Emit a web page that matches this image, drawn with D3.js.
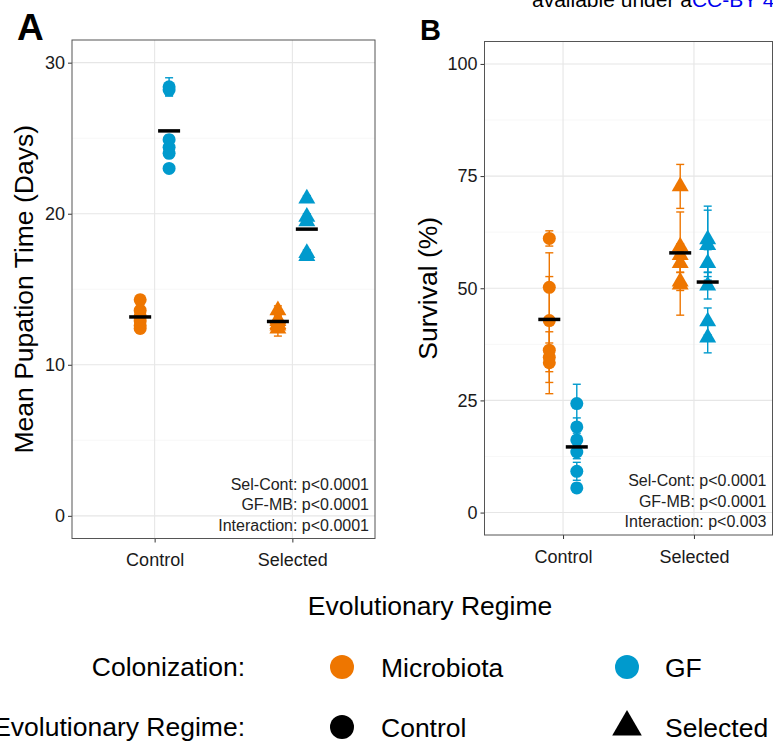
<!DOCTYPE html>
<html>
<head>
<meta charset="utf-8">
<script src="https://cdn.jsdelivr.net/npm/d3@7"></script>
<style>
  body { margin: 0; background: #fff; overflow: hidden; }
  text { font-family: "Liberation Sans", Arial, sans-serif; }
</style>
</head>
<body>
<script>
const width = 773;
const height = 744;

const regimes = ["Control", "Selected"];
const colonization = ["Microbiota", "GF"];
const colors = ["#EE7600", "#009ACD"];

// panel A: mean pupation time (days), one value per replicate, with SE
const pupControlMB = [14.3, 13.6, 13.2, 12.9, 12.6, 12.4];
const pupControlMBse = [0.3, 0.3, 0.3, 0.3, 0.3, 0.3];
const pupControlGF = [28.4, 28.2, 24.9, 24.4, 24.0, 23.0];
const pupControlGFse = [0.6, 0.4, 0.3, 0.3, 0.3, 0.2];
const pupSelectedMB = [13.6, 13.0, 12.9, 12.7, 12.6, 12.4];
const pupSelectedMBse = [0.3, 0.3, 0.3, 0.3, 0.3, 0.5];
const pupSelectedGF = [21.0, 19.8, 19.5, 17.4, 17.2];
const pupSelectedGFse = [0.2, 0.2, 0.2, 0.2, 0.2];

// panel B: survival (%)
const survControlMB = [61.1, 50.2, 42.8, 36.2, 34.6, 33.4];
const survControlMBse = [1.7, 7.7, 9.8, 7.2, 3.2, 6.9];
const survControlGF = [24.3, 19.1, 16.2, 13.5, 9.2, 5.5];
const survControlGFse = [4.3, 2.0, 1.5, 1.5, 2.0, 1.0];
const survSelectedMB = [72.7, 59.3, 57.4, 55.6, 51.5, 50.8];
const survSelectedMBse = [4.9, 7.7, 2.5, 2.0, 2.0, 6.8];
const survSelectedGF = [60.9, 59.6, 55.6, 50.6, 42.6, 39.0];
const survSelectedGFse = [7.4, 7.8, 3.0, 3.0, 3.0, 3.4];

const pupTicks = [0, 10, 20, 30];
const pupMinor = [5, 15, 25];
const survTicks = [0, 25, 50, 75, 100];
const survMinor = [12.5, 37.5, 62.5, 87.5];

const statsA = ["Sel-Cont: p<0.0001", "GF-MB: p<0.0001", "Interaction: p<0.0001"];
const statsB = ["Sel-Cont: p<0.0001", "GF-MB: p<0.0001", "Interaction: p<0.003"];

const svg = d3.select('body')
  .append('svg')
  .attr('width', width)
  .attr('height', height);

const groupsOf = (cm, cmse, cg, cgse, sm, smse, sg, sgse) => [
  { regime: "Control", col: 0, vals: cm, se: cmse },
  { regime: "Control", col: 1, vals: cg, se: cgse },
  { regime: "Selected", col: 0, vals: sm, se: smse },
  { regime: "Selected", col: 1, vals: sg, se: sgse }
];

const drawPanel = (opt) => {
  const { left, right, top, bottom } = opt;
  const g = svg.append('g');

  const x = d3.scalePoint().domain(regimes).range([left, right]).padding(0.6);
  const y = d3.scaleLinear().domain(opt.domain).range([bottom, top]);
  const dodge = x.step() * 0.105;
  const cx = (d) => x(d.regime) + (d.col === 0 ? -dodge : dodge);

  // grid
  g.selectAll('.minor').data(opt.minor).join('line')
    .attr('x1', left).attr('x2', right)
    .attr('y1', d => y(d)).attr('y2', d => y(d))
    .attr('stroke', '#F3F3F3').attr('stroke-width', 0.7);
  g.selectAll('.major').data(opt.ticks).join('line')
    .attr('x1', left).attr('x2', right)
    .attr('y1', d => y(d)).attr('y2', d => y(d))
    .attr('stroke', '#E6E6E6').attr('stroke-width', 1.1);
  g.selectAll('.vgrid').data(regimes).join('line')
    .attr('x1', d => x(d)).attr('x2', d => x(d))
    .attr('y1', top).attr('y2', bottom)
    .attr('stroke', '#E6E6E6').attr('stroke-width', 1.1);

  // axes
  const yAxis = g.append('g')
    .attr('transform', `translate(${left},0)`)
    .call(d3.axisLeft(y).tickValues(opt.ticks).tickSize(4).tickPadding(3));
  const xAxis = g.append('g')
    .attr('transform', `translate(0,${bottom})`)
    .call(d3.axisBottom(x).tickSize(4).tickPadding(11));
  [yAxis, xAxis].forEach(a => {
    a.select('.domain').remove();
    a.selectAll('line').attr('stroke', '#333').attr('stroke-width', 1);
    a.selectAll('text').attr('fill', '#1a1a1a').style('font-size', '18px')
      .style('font-family', '"Liberation Sans", Arial, sans-serif');
  });

  const points = [];
  opt.groups.forEach(gr => gr.vals.forEach((v, i) => points.push({ ...gr, v, s: gr.se[i] })));

  // error bars
  const eb = g.append('g').selectAll('g').data(points).join('g')
    .attr('stroke', d => colors[d.col]).attr('stroke-width', 1.4);
  eb.append('line')
    .attr('x1', cx).attr('x2', cx)
    .attr('y1', d => y(d.v - d.s)).attr('y2', d => y(d.v + d.s));
  [-1, 1].forEach(sgn => {
    eb.append('line')
      .attr('x1', d => cx(d) - 4).attr('x2', d => cx(d) + 4)
      .attr('y1', d => y(d.v + sgn * d.s)).attr('y2', d => y(d.v + sgn * d.s));
  });

  // points
  g.append('g').selectAll('path').data(points).join('path')
    .attr('transform', d => `translate(${cx(d)},${y(d.v)})`)
    .attr('d', d => d.regime === "Control"
      ? d3.symbol(d3.symbolCircle, Math.PI * 6.5 * 6.5)()
      : d3.symbol(d3.symbolTriangle, 125)())
    .attr('fill', d => colors[d.col]);

  // group means
  g.append('g').selectAll('line').data(opt.groups).join('line')
    .attr('x1', d => cx(d) - 11).attr('x2', d => cx(d) + 11)
    .attr('y1', d => y(d3.mean(d.vals))).attr('y2', d => y(d3.mean(d.vals)))
    .attr('stroke', 'black').attr('stroke-width', 3.5);

  // border
  g.append('rect')
    .attr('x', left).attr('y', top)
    .attr('width', right - left).attr('height', bottom - top)
    .attr('fill', 'none').attr('stroke', '#555').attr('stroke-width', 1);

  // stats
  g.append('g').selectAll('text').data(opt.stats).join('text')
    .attr('x', right - 6)
    .attr('y', (d, i) => bottom - 49 + i * 20.5)
    .attr('text-anchor', 'end')
    .attr('fill', '#222')
    .style('font-size', '16px')
    .text(d => d);

  // y title
  g.append('text')
    .attr('transform', `translate(${opt.titleX},${(top + bottom) / 2}) rotate(-90)`)
    .attr('text-anchor', 'middle')
    .style('font-size', '26.5px')
    .text(opt.title);

  // panel letter
  g.append('text')
    .attr('x', opt.letterX).attr('y', opt.letterY)
    .style('font-size', opt.letterSize)
    .style('font-weight', 'bold')
    .text(opt.letter);
};

drawPanel({
  left: 72, right: 375, top: 40, bottom: 538.5,
  domain: [-1.5, 31.5], ticks: pupTicks, minor: pupMinor,
  groups: groupsOf(pupControlMB, pupControlMBse, pupControlGF, pupControlGFse,
                   pupSelectedMB, pupSelectedMBse, pupSelectedGF, pupSelectedGFse),
  stats: statsA, title: "Mean Pupation Time (Days)", titleX: 33,
  letter: "A", letterX: 17, letterY: 40, letterSize: '37px'
});

drawPanel({
  left: 484.5, right: 772.5, top: 41.5, bottom: 535,
  domain: [-5, 105], ticks: survTicks, minor: survMinor,
  groups: groupsOf(survControlMB, survControlMBse, survControlGF, survControlGFse,
                   survSelectedMB, survSelectedMBse, survSelectedGF, survSelectedGFse),
  stats: statsB, title: "Survival (%)", titleX: 437,
  letter: "B", letterX: 420, letterY: 40, letterSize: '29px'
});

// shared x title
svg.append('text')
  .attr('x', 430).attr('y', 615)
  .attr('text-anchor', 'middle')
  .style('font-size', '26.5px')
  .text("Evolutionary Regime");

// header fragment from the source page
const header = svg.append('text').attr('x', 532).attr('y', 7).style('font-size', '21px');
header.append('tspan').attr('fill', 'black').text("available under a");
header.append('tspan').attr('fill', '#0000EE').text("CC-BY 4.0 International license");

// legend
const legend = svg.append('g');
const legendRows = [
  { title: "Colonization:", y: 667, items: colonization.map((c, i) => ({ label: c, fill: colors[i], shape: d3.symbolCircle })) },
  { title: "Evolutionary Regime:", y: 727, items: regimes.map((r, i) => ({ label: r, fill: 'black', shape: i === 0 ? d3.symbolCircle : d3.symbolTriangle })) }
];
const keyX = [342, 627];
legendRows.forEach(row => {
  legend.append('text')
    .attr('x', 245).attr('y', row.y + 9)
    .attr('text-anchor', 'end')
    .style('font-size', '26.5px')
    .text(row.title);
  row.items.forEach((it, i) => {
    legend.append('path')
      .attr('transform', `translate(${keyX[i]},${row.y})`)
      .attr('d', d3.symbol(it.shape, it.shape === d3.symbolCircle ? Math.PI * 12 * 12 : 380)())
      .attr('fill', it.fill);
    legend.append('text')
      .attr('x', keyX[i] + (i === 0 ? 39 : 38)).attr('y', row.y + 10)
      .style('font-size', '26.5px')
      .text(it.label);
  });
});
</script>
</body>
</html>
